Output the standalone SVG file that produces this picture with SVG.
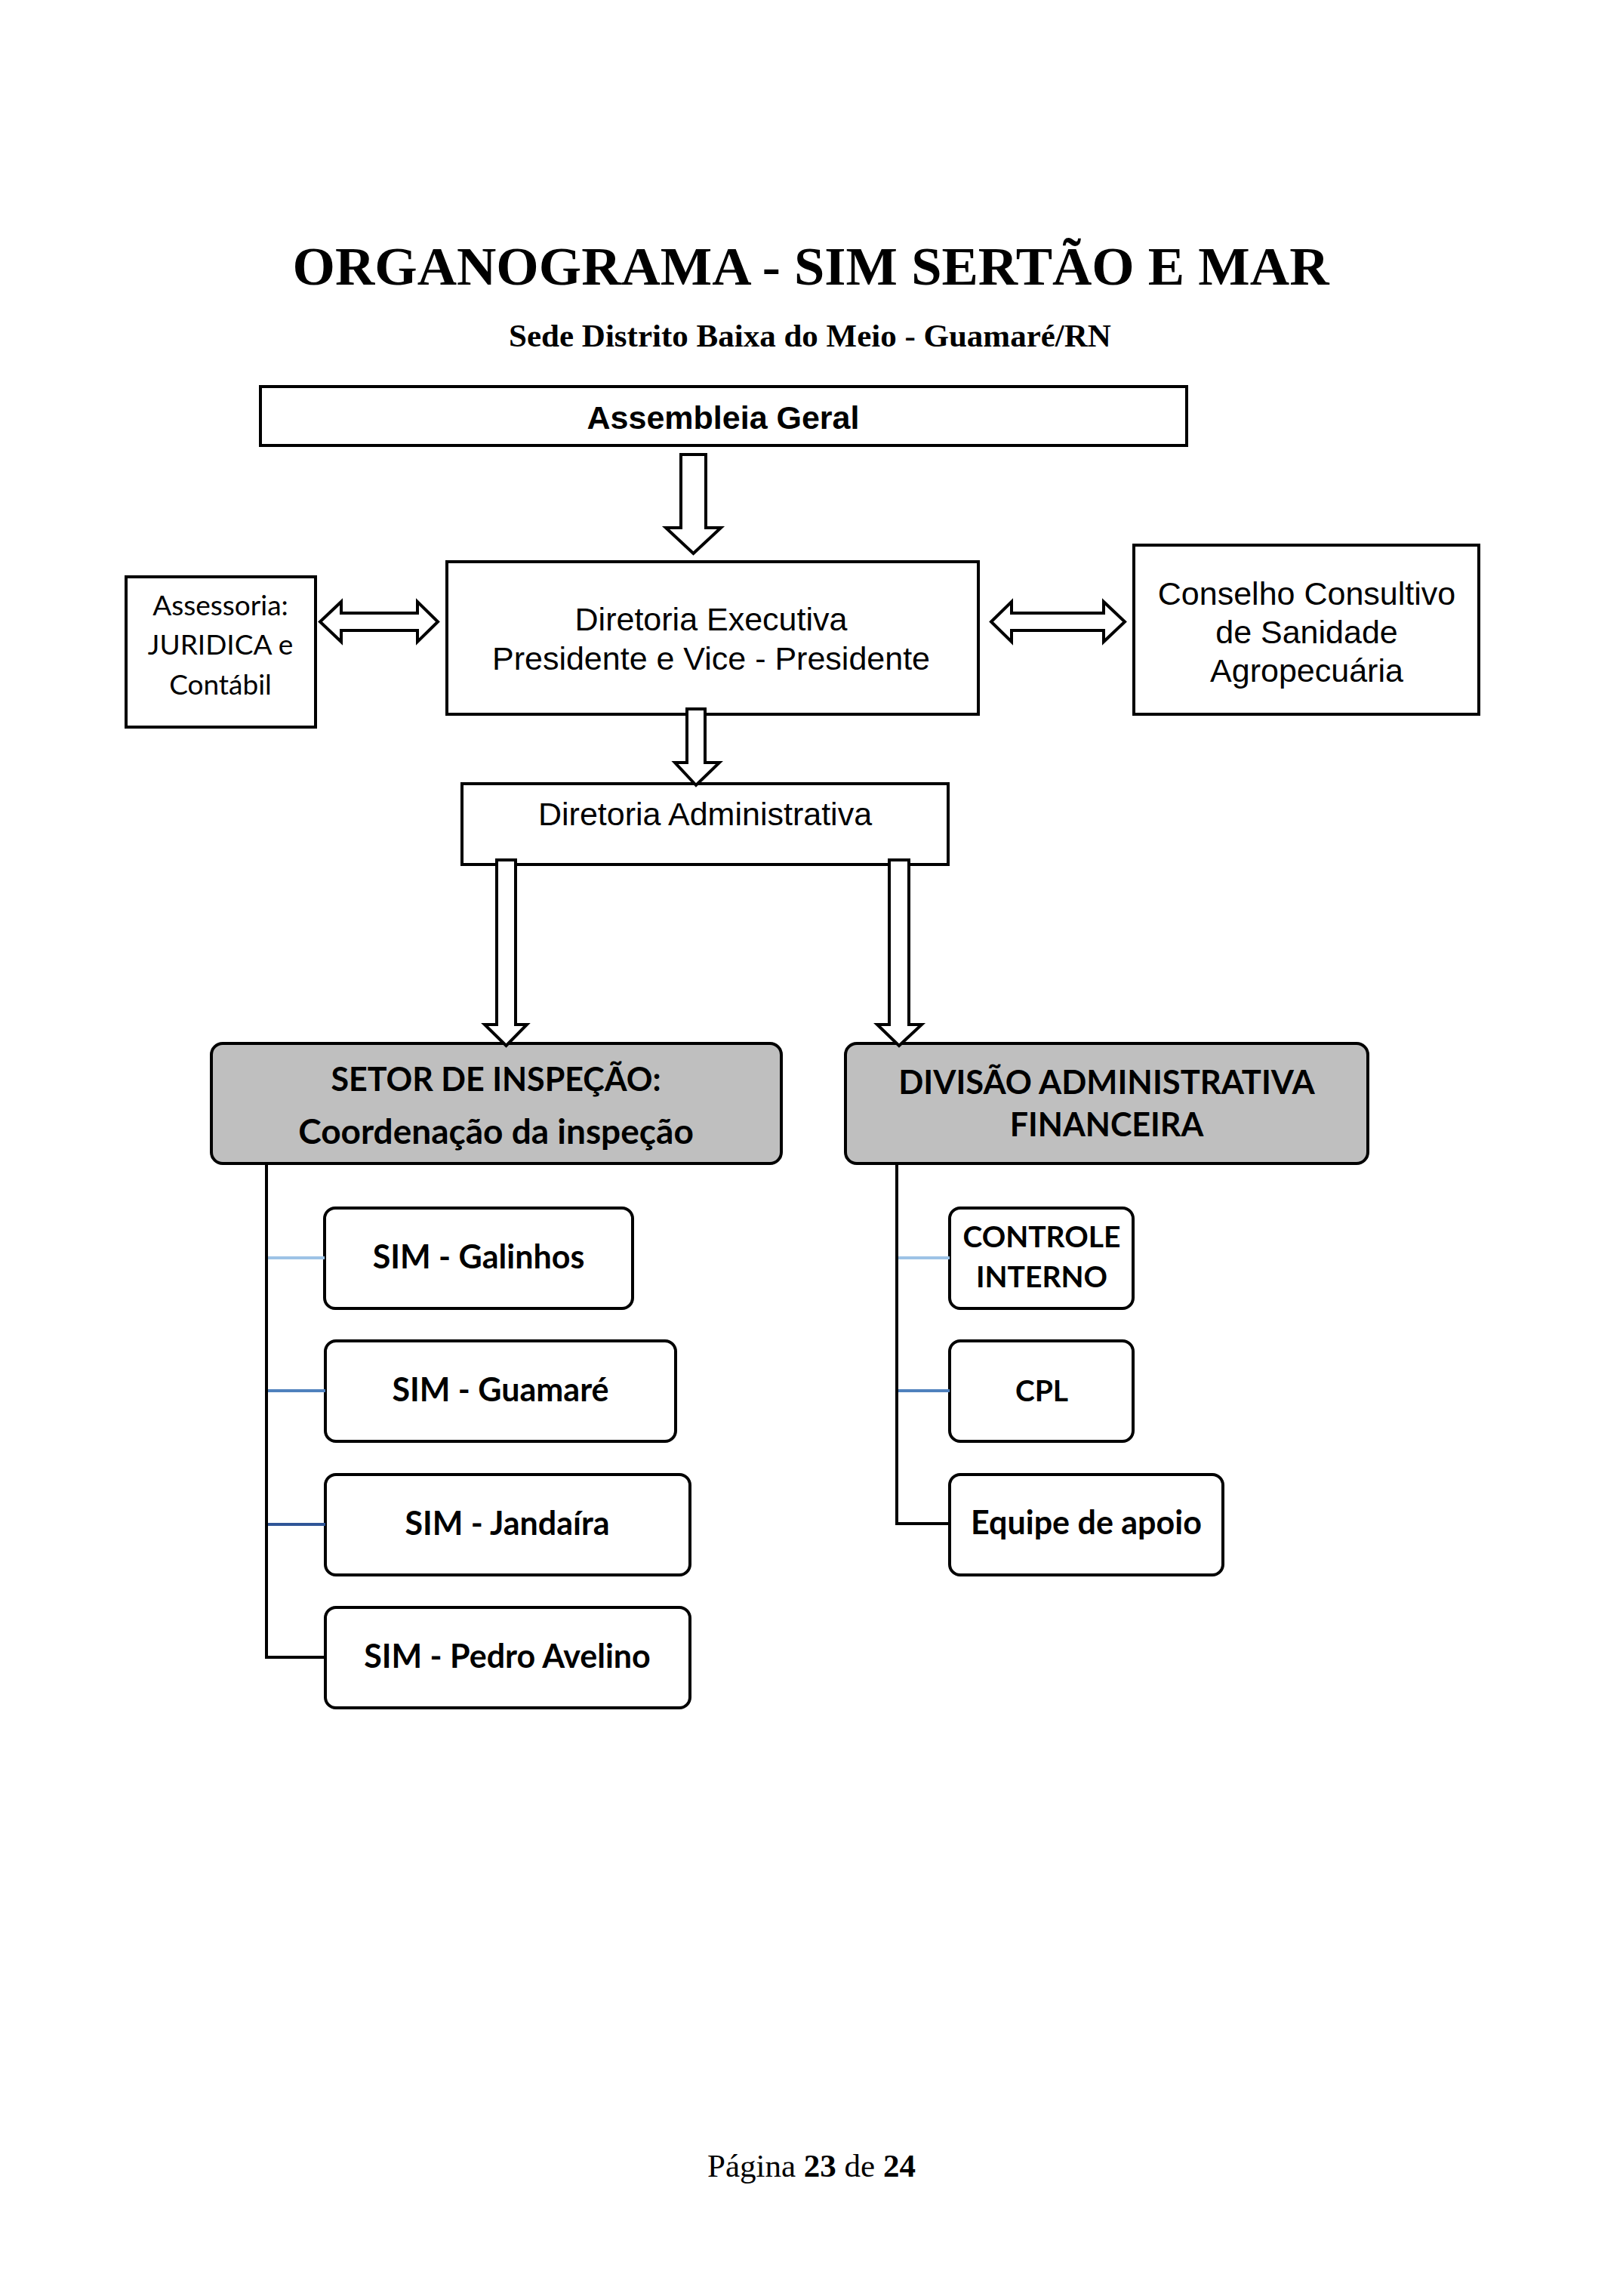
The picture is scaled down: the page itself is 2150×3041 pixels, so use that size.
<svg xmlns="http://www.w3.org/2000/svg" width="2150" height="3041" viewBox="0 0 2150 3041">
<style>
.bg{fill:#ffffff}
.box{fill:#ffffff;stroke:#000;stroke-width:4}
.rbox{fill:#ffffff;stroke:#000;stroke-width:4}
.gbox{fill:#bfbfbf;stroke:#000;stroke-width:4}
.arr{fill:#ffffff;stroke:#000;stroke-width:4;stroke-linejoin:miter}
.ln{fill:none;stroke:#000;stroke-width:4}
.t-title{font-family:"Liberation Serif","Times New Roman",serif;font-weight:bold;text-anchor:middle;fill:#000}
.t-ar{font-family:"Liberation Sans",Arial,sans-serif;font-size:43px;text-anchor:middle;fill:#000}
.t-arb{font-family:"Liberation Sans",Arial,sans-serif;font-size:43px;font-weight:bold;text-anchor:middle;fill:#000}
.t-cal{font-family:Lato,"Open Sans",sans-serif;font-size:37px;text-anchor:middle;fill:#000}
.t-calb{font-family:Lato,"Open Sans",sans-serif;font-weight:bold;text-anchor:middle;fill:#000}
</style>
<rect class="bg" x="0" y="0" width="2150" height="3041"/>

<g id="header">
<text class="t-title" x="1074" y="377" font-size="72.5">ORGANOGRAMA - SIM SERTÃO E MAR</text>
<text class="t-title" x="1073" y="459" font-size="43">Sede Distrito Baixa do Meio - Guamaré/RN</text>
</g>

<g id="assembleia">
<rect class="box" x="345" y="512" width="1227" height="78"/>
<text class="t-arb" x="958" y="568">Assembleia Geral</text>
</g>

<g id="assessoria">
<rect class="box" x="167" y="764" width="251" height="199"/>
<text class="t-cal" x="292" y="815">Assessoria:</text>
<text class="t-cal" x="292" y="867" font-size="34.5">JURIDICA e</text>
<text class="t-cal" x="292" y="920">Contábil</text>
</g>

<g id="diretoria-executiva">
<rect class="box" x="592" y="744" width="704" height="202"/>
<text class="t-ar" x="942" y="835">Diretoria Executiva</text>
<text class="t-ar" x="942" y="887">Presidente e Vice - Presidente</text>
</g>

<g id="conselho">
<rect class="box" x="1502" y="722" width="457" height="224"/>
<text class="t-ar" x="1731" y="801">Conselho Consultivo</text>
<text class="t-ar" x="1731" y="852">de Sanidade</text>
<text class="t-ar" x="1731" y="903">Agropecuária</text>
</g>

<g id="diretoria-administrativa">
<rect class="box" x="612" y="1038" width="644" height="107"/>
<text class="t-ar" x="934" y="1093">Diretoria Administrativa</text>
</g>

<g id="setor-inspecao">
<rect class="gbox" x="280" y="1382" width="755" height="159" rx="15" ry="15"/>
<text class="t-calb" x="657" y="1445" font-size="43">SETOR DE INSPEÇÃO:</text>
<text class="t-calb" x="657" y="1515" font-size="46">Coordenação da inspeção</text>
</g>

<g id="divisao-adm">
<rect class="gbox" x="1120" y="1382" width="692" height="159" rx="15" ry="15"/>
<text class="t-calb" x="1466" y="1449" font-size="43.5">DIVISÃO ADMINISTRATIVA</text>
<text class="t-calb" x="1466" y="1505" font-size="43">FINANCEIRA</text>
</g>

<g id="sim-galinhos">
<rect class="rbox" x="430" y="1600" width="408" height="133" rx="14" ry="14"/>
<text class="t-calb" x="634" y="1680" font-size="43">SIM - Galinhos</text>
</g>
<g id="sim-guamare">
<rect class="rbox" x="431" y="1776" width="464" height="133" rx="14" ry="14"/>
<text class="t-calb" x="663" y="1856" font-size="43">SIM - Guamaré</text>
</g>
<g id="sim-jandaira">
<rect class="rbox" x="431" y="1953" width="483" height="133" rx="14" ry="14"/>
<text class="t-calb" x="672" y="2033" font-size="43">SIM - Jandaíra</text>
</g>
<g id="sim-pedro-avelino">
<rect class="rbox" x="431" y="2129" width="483" height="133" rx="14" ry="14"/>
<text class="t-calb" x="672" y="2209" font-size="43">SIM - Pedro Avelino</text>
</g>

<g id="controle-interno">
<rect class="rbox" x="1258" y="1600" width="243" height="133" rx="14" ry="14"/>
<text class="t-calb" x="1380" y="1652" font-size="39">CONTROLE</text>
<text class="t-calb" x="1380" y="1705" font-size="39">INTERNO</text>
</g>
<g id="cpl">
<rect class="rbox" x="1258" y="1776" width="243" height="133" rx="14" ry="14"/>
<text class="t-calb" x="1380" y="1856" font-size="39">CPL</text>
</g>
<g id="equipe-apoio">
<rect class="rbox" x="1258" y="1953" width="362" height="133" rx="14" ry="14"/>
<text class="t-calb" x="1439" y="2032" font-size="43">Equipe de apoio</text>
</g>

<g id="connectors">
<polygon class="arr" points="902,602 935,602 935,699 955,699 918.5,733 882,699 902,699"/>
<polygon class="arr" points="910,939 934,939 934,1010 953,1010 922,1040 894,1010 910,1010"/>
<polygon class="arr" points="658,1139 683,1139 683,1357 698,1357 670.5,1385 642,1357 658,1357"/>
<polygon class="arr" points="1178,1139 1204,1139 1204,1357 1221,1357 1191,1385 1162,1357 1178,1357"/>
<polygon class="arr" points="424,823.5 452,797 452,812 553,812 553,797 580,823.5 553,850 553,835 452,835 452,850"/>
<polygon class="arr" points="1313,823.5 1340,797 1340,812 1462,812 1462,797 1490,823.5 1462,850 1462,835 1340,835 1340,850"/>
<path class="ln" d="M353,1543 V2195 H431"/>
<path class="ln" d="M1188,1543 V2018 H1258"/>
<line x1="355" y1="1666" x2="430" y2="1666" stroke="#9dc3e6" stroke-width="4"/>
<line x1="355" y1="1842" x2="431" y2="1842" stroke="#4f81bd" stroke-width="4"/>
<line x1="355" y1="2019" x2="431" y2="2019" stroke="#2f5597" stroke-width="4"/>
<line x1="1190" y1="1666" x2="1258" y2="1666" stroke="#9dc3e6" stroke-width="4"/>
<line x1="1190" y1="1842" x2="1258" y2="1842" stroke="#4f81bd" stroke-width="4"/>
</g>

<g id="footer">
<text x="1075" y="2883" font-family="'Liberation Serif','Times New Roman',serif" font-size="43" text-anchor="middle" fill="#000">Página <tspan font-weight="bold">23</tspan> de <tspan font-weight="bold">24</tspan></text>
</g>
</svg>
